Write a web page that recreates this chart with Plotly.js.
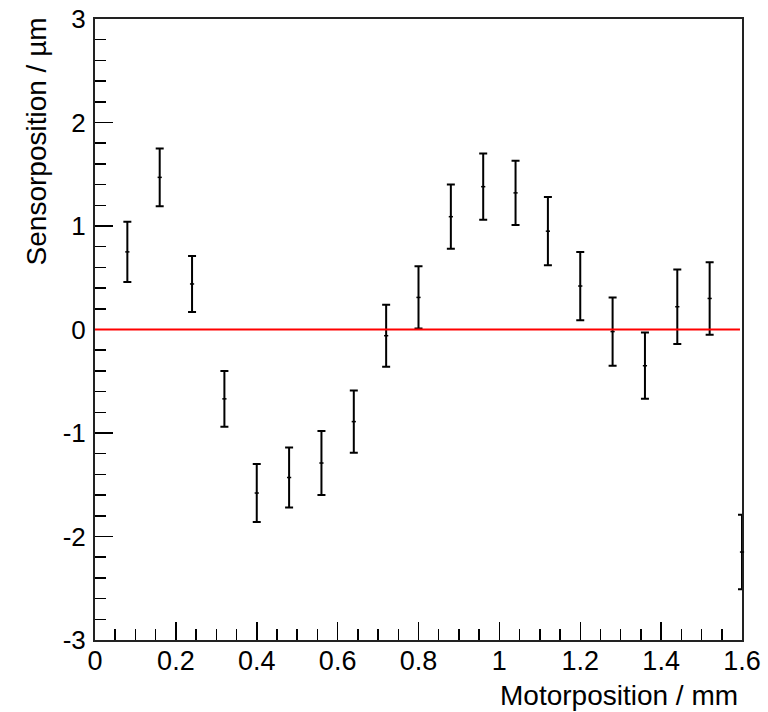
<!DOCTYPE html>
<html>
<head>
<meta charset="utf-8">
<script src="https://cdn.plot.ly/plotly-3.0.1.min.js"></script>
<style>
html,body{margin:0;padding:0;background:#fff;}
#chart{width:768px;height:712px;}
</style>
</head>
<body>
<div id="chart"></div>
<script>
// Motor position (mm)
var motorPos = [0.08, 0.16, 0.24, 0.32, 0.40, 0.48, 0.56, 0.64, 0.72, 0.80,
                0.88, 0.96, 1.04, 1.12, 1.20, 1.28, 1.36, 1.44, 1.52, 1.60];
// Sensor position (µm)
var sensorPos = [0.75, 1.47, 0.44, -0.67, -1.58, -1.43, -1.29, -0.89, -0.06, 0.31,
                 1.09, 1.38, 1.32, 0.95, 0.42, -0.02, -0.35, 0.22, 0.30, -2.15];
// Error (µm)
var sensorErr = [0.29, 0.28, 0.27, 0.27, 0.28, 0.29, 0.31, 0.30, 0.30, 0.30,
                 0.31, 0.32, 0.31, 0.33, 0.33, 0.33, 0.32, 0.36, 0.35, 0.36];
var xTickVals = [0, 0.2, 0.4, 0.6, 0.8, 1, 1.2, 1.4, 1.6];
var xTickText = ["0", "0.2", "0.4", "0.6", "0.8", "1", "1.2", "1.4", "1.6"];
var yTickVals = [-3, -2, -1, 0, 1, 2, 3];
var yTickText = ["-3", "-2", "-1", "0", "1", "2", "3"];
var xTitle = "Motorposition / mm";
var yTitle = "Sensorposition / µm";
var refLevel = 0;

var font = "Liberation Sans, Arial, Helvetica, sans-serif";

var trace = {
  x: motorPos,
  y: sensorPos,
  type: "scatter",
  mode: "markers",
  marker: {color: "#000", size: 3, symbol: "line-ew", line: {color: "#000", width: 1.5}},
  error_y: {type: "data", array: sensorErr, visible: true, color: "#000", thickness: 2, width: 4},
  cliponaxis: false,
  hoverinfo: "skip",
  showlegend: false
};

var layout = {
  width: 768, height: 712,
  margin: {l: 95, r: 26, t: 19, b: 72, pad: 0},
  paper_bgcolor: "#fff",
  plot_bgcolor: "#fff",
  showlegend: false,
  font: {family: font, color: "#000"},
  xaxis: {
    range: [0, 1.6],
    tickmode: "array", tickvals: xTickVals, ticktext: xTickText,
    ticks: "inside", ticklen: 18, tickwidth: 1.5, tickcolor: "#000",
    minor: {dtick: 0.05, tick0: 0, ticks: "inside", ticklen: 11, tickwidth: 1.5, tickcolor: "#000", showgrid: false},
    showgrid: false, zeroline: false,
    showline: true, mirror: true, linecolor: "#222", linewidth: 2,
    tickfont: {family: font, size: 27, color: "#000"},
    ticklabelstandoff: -4,
    layer: "below traces"
  },
  yaxis: {
    range: [-3, 3],
    tickmode: "array", tickvals: yTickVals, ticktext: yTickText,
    ticks: "inside", ticklen: 18, tickwidth: 1.5, tickcolor: "#000",
    minor: {dtick: 0.2, tick0: 0, ticks: "inside", ticklen: 11, tickwidth: 1.5, tickcolor: "#000", showgrid: false},
    showgrid: false, zeroline: false,
    showline: true, mirror: true, linecolor: "#222", linewidth: 2,
    tickfont: {family: font, size: 26, color: "#000"},
    ticklabelstandoff: 2,
    layer: "below traces"
  },
  shapes: [{
    type: "line", xref: "x", yref: "y",
    x0: 0, x1: 1.595, y0: refLevel, y1: refLevel,
    line: {color: "#ff0000", width: 2}, layer: "above"
  }],
  annotations: [
    {text: xTitle, xref: "paper", yref: "paper", x: 0.997, y: -0.089,
     xanchor: "right", yanchor: "middle", showarrow: false,
     font: {family: font, size: 28, color: "#000"}},
    {text: yTitle, xref: "paper", yref: "paper", x: -0.091, y: 1.006,
     xanchor: "center", yanchor: "top", textangle: -90, showarrow: false,
     font: {family: font, size: 28, color: "#000"}}
  ]
};

Plotly.newPlot("chart", [trace], layout, {staticPlot: true, displayModeBar: false});
</script>
</body>
</html>
